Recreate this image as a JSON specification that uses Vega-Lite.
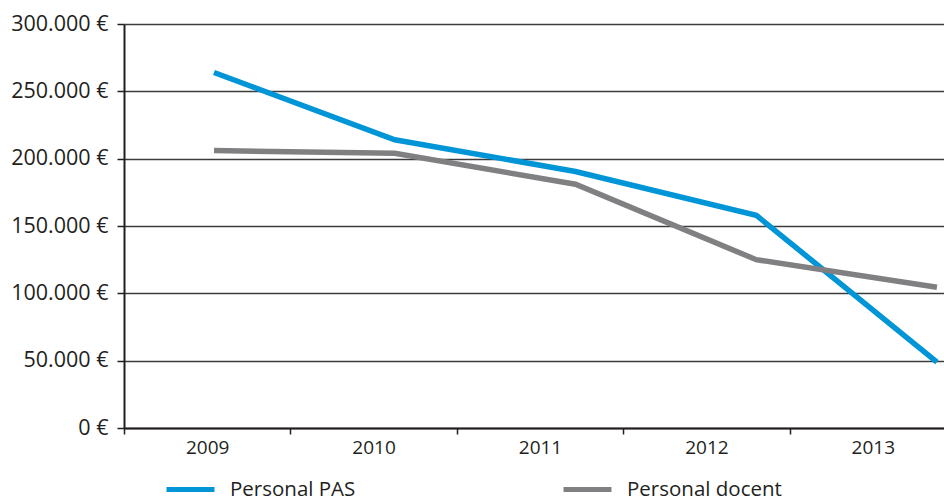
{
  "$schema": "https://vega.github.io/schema/vega-lite/v6.json",
  "width": 820,
  "height": 404,
  "autosize": {"type": "none"},
  "padding": {"left": 124, "top": 24, "right": 0, "bottom": 72},
  "config": {
    "view": {"stroke": null},
    "font": "Open Sans",
    "background": "#ffffff"
  },
  "data": {
    "values": [
      {"year": 2009, "series": "Personal PAS", "value": 264000},
      {"year": 2010, "series": "Personal PAS", "value": 214000},
      {"year": 2011, "series": "Personal PAS", "value": 190500},
      {"year": 2012, "series": "Personal PAS", "value": 158000},
      {"year": 2013, "series": "Personal PAS", "value": 49000},
      {"year": 2009, "series": "Personal docent", "value": 206000},
      {"year": 2010, "series": "Personal docent", "value": 204000},
      {"year": 2011, "series": "Personal docent", "value": 181000},
      {"year": 2012, "series": "Personal docent", "value": 125000},
      {"year": 2013, "series": "Personal docent", "value": 104500}
    ]
  },
  "layer": [
    {
      "mark": {"type": "point", "opacity": 0},
      "encoding": {
        "x": {
          "field": "year",
          "type": "ordinal",
          "scale": {"type": "band", "range": [0, 832], "paddingInner": 0, "paddingOuter": 0},
          "axis": {
            "orient": "bottom",
            "title": null,
            "tickBand": "extent",
            "labelAngle": 0,
            "labelFontSize": 19,
            "labelColor": "#231f20",
            "labelPadding": 4,
            "tickSize": 6,
            "tickColor": "#231f20",
            "tickWidth": 1.5,
            "domainColor": "#231f20",
            "domainWidth": 2,
            "grid": false
          }
        }
      }
    },
    {
      "mark": {"type": "line", "strokeWidth": 5.5},
      "encoding": {
        "x": {
          "field": "year",
          "type": "quantitative",
          "scale": {"domain": [2008.502, 2013.039], "nice": false, "zero": false},
          "axis": null
        },
        "y": {
          "field": "value",
          "type": "quantitative",
          "scale": {"domain": [0, 300000], "nice": false},
          "axis": {
            "title": null,
            "values": [0, 50000, 100000, 150000, 200000, 250000, 300000],
            "labelExpr": "replace(format(datum.value, ',.0f'), ',', '.') + ' €'",
            "labelFontSize": 21.5,
            "labelColor": "#231f20",
            "labelPadding": 9,
            "tickSize": 7,
            "tickColor": "#231f20",
            "tickWidth": 1.5,
            "domainColor": "#231f20",
            "domainWidth": 2,
            "grid": true,
            "gridColor": "#3c3c3c",
            "gridWidth": 1.3
          }
        },
        "color": {
          "field": "series",
          "type": "nominal",
          "scale": {"domain": ["Personal PAS", "Personal docent"], "range": ["#0095d6", "#808083"]},
          "legend": {
            "title": null,
            "orient": "none",
            "direction": "horizontal",
            "legendX": 40,
            "legendY": 439,
            "padding": 0,
            "symbolType": "stroke",
            "symbolSize": 2300,
            "symbolStrokeWidth": 5,
            "labelFontSize": 20.5,
            "labelColor": "#231f20",
            "labelOffset": 13,
            "columnPadding": 197
          }
        }
      }
    }
  ],
  "resolve": {"scale": {"x": "independent"}, "axis": {"x": "independent"}}
}
